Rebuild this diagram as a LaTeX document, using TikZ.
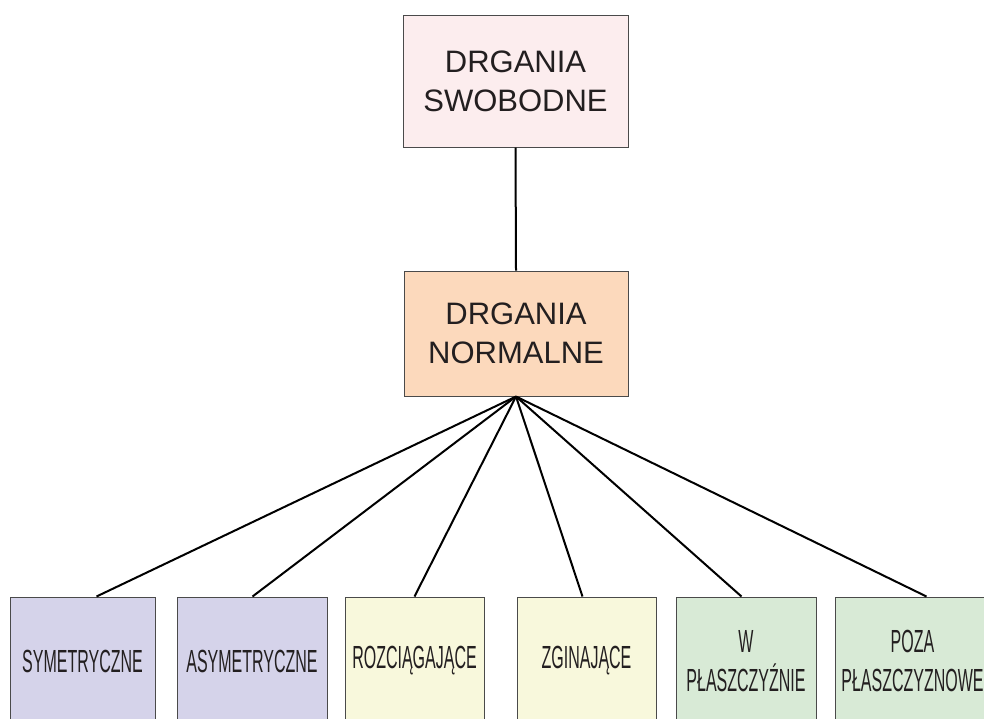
\documentclass[tikz,border=0pt]{standalone}
\usepackage{fontspec}
\setmainfont{Liberation Sans}
\newfontfamily\condfont[FakeStretch=0.5]{Liberation Sans}
\definecolor{boxline}{HTML}{4A4A4A}
\definecolor{txt}{HTML}{231F20}
\definecolor{cpink}{HTML}{FCEDEE}
\definecolor{cpeach}{HTML}{FCD9BC}
\definecolor{cviolet}{HTML}{D5D3EA}
\definecolor{cyellow}{HTML}{F8F8DC}
\definecolor{cgreen}{HTML}{D8EAD6}
\begin{document}
\begin{tikzpicture}[x=1pt,y=-1pt,
  box/.style={draw=boxline, line width=1pt, inner sep=0pt, text=txt, align=center},
  bigbox/.style={box, font=\fontsize{31}{39}\selectfont},
  leaf/.style={box, minimum height=128pt, font=\condfont\fontsize{32}{39}\selectfont},
  conn/.style={line width=2pt, draw=black}]
\clip (0,0) rectangle (984,718);
\fill[white] (0,0) rectangle (984,718);
\node[bigbox, fill=cpink, minimum width=225pt, minimum height=132pt] (top) at (515.5,81) {DRGANIA\\SWOBODNE};
\node[bigbox, fill=cpeach, minimum width=224pt, minimum height=125pt] (mid) at (516,333.5) {DRGANIA\\NORMALNE};
\node[leaf, fill=cviolet, minimum width=145pt] (b1) at (82.5,661) {SYMETRYCZNE};
\node[leaf, fill=cviolet, minimum width=150pt] (b2) at (252,661) {ASYMETRYCZNE};
\node[leaf, fill=cyellow, minimum width=139pt] (b3) at (414.5,661) {ROZCIĄGAJĄCE};
\node[leaf, fill=cyellow, minimum width=139pt] (b4) at (586.5,661) {ZGINAJĄCE};
\node[leaf, fill=cgreen, minimum width=140pt] (b5) at (746,661) {W\\PŁASZCZYŹNIE};
\node[leaf, fill=cgreen, minimum width=155pt] (b6) at (912.5,661) {POZA\\PŁASZCZYZNOWE};
\draw[conn] (top.south) -- (mid.north);
\draw[conn] (mid.south) -- ([xshift=87pt]b1.north west);
\draw[conn] (mid.south) -- ([xshift=76pt]b2.north west);
\draw[conn] (mid.south) -- ([xshift=70pt]b3.north west);
\draw[conn] (mid.south) -- ([xshift=66pt]b4.north west);
\draw[conn] (mid.south) -- ([xshift=66pt]b5.north west);
\draw[conn] (mid.south) -- ([xshift=92pt]b6.north west);
\end{tikzpicture}
\end{document}
